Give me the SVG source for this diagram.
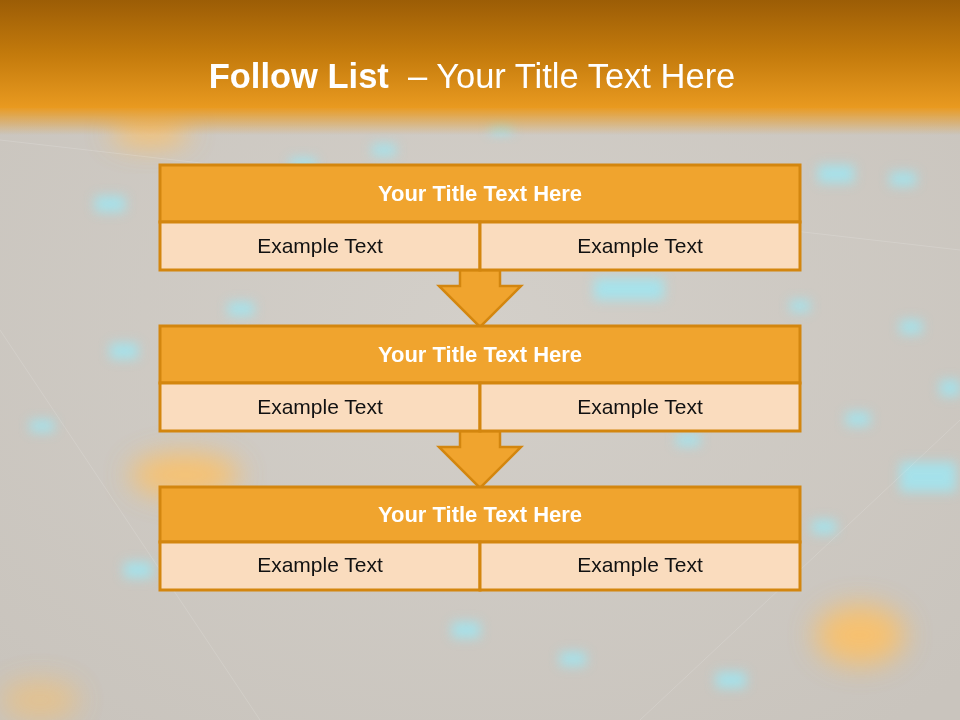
<svg xmlns="http://www.w3.org/2000/svg" width="960" height="720" viewBox="0 0 960 720">
<defs>
<linearGradient id="hdr" x1="0" y1="0" x2="0" y2="1">
<stop offset="0" stop-color="#9c5d06"/>
<stop offset="0.5" stop-color="#c37a0c"/>
<stop offset="1" stop-color="#e99a20"/>
</linearGradient>
<linearGradient id="fade" x1="0" y1="0" x2="0" y2="1">
<stop offset="0" stop-color="#e99a20" stop-opacity="1"/>
<stop offset="1" stop-color="#e99a20" stop-opacity="0"/>
</linearGradient>
<radialGradient id="bg" cx="0.5" cy="0.45" r="0.7">
<stop offset="0" stop-color="#d3cfc9"/>
<stop offset="1" stop-color="#c9c4bd"/>
</radialGradient>
<filter id="blur" x="-100%" y="-100%" width="300%" height="300%"><feGaussianBlur stdDeviation="6"/></filter>
<filter id="blur2" x="-100%" y="-100%" width="300%" height="300%"><feGaussianBlur stdDeviation="14"/></filter>
<style>
.tt{fill:#f0a42e;stroke:#d3860f;stroke-width:3}
.bd{fill:#fadcbe;stroke:#d3860f;stroke-width:3}
.ar{fill:#f0a42e;stroke:#d3860f;stroke-width:2.5;stroke-linejoin:miter}
.ht{font-family:"Liberation Sans",Arial,sans-serif;font-weight:bold;font-size:22px;fill:#ffffff;text-anchor:middle}
.et{font-family:"Liberation Sans",Arial,sans-serif;font-size:21px;fill:#111111;text-anchor:middle}
.cy{fill:#9fe6f2;filter:url(#blur)}
.og{fill:#ffc060;filter:url(#blur2)}
</style>
</defs>
<rect x="0" y="0" width="960" height="720" fill="url(#bg)"/>
<g opacity="0.85">
<ellipse class="og" cx="150" cy="132" rx="40" ry="14"/>
<ellipse class="og" cx="185" cy="475" rx="55" ry="22"/>
<ellipse class="og" cx="860" cy="635" rx="45" ry="30"/>
<ellipse class="og" cx="40" cy="700" rx="40" ry="20" opacity="0.6"/>
<rect class="cy" x="95" y="196" width="30" height="16"/>
<rect class="cy" x="110" y="343" width="28" height="16"/>
<rect class="cy" x="228" y="302" width="26" height="14"/>
<rect class="cy" x="290" y="158" width="26" height="12"/>
<rect class="cy" x="372" y="144" width="24" height="12"/>
<rect class="cy" x="490" y="124" width="22" height="10"/>
<rect class="cy" x="594" y="278" width="70" height="22"/>
<rect class="cy" x="818" y="165" width="36" height="18"/>
<rect class="cy" x="890" y="172" width="26" height="14"/>
<rect class="cy" x="900" y="462" width="56" height="30"/>
<rect class="cy" x="846" y="412" width="24" height="14"/>
<rect class="cy" x="452" y="622" width="28" height="16"/>
<rect class="cy" x="716" y="672" width="30" height="16"/>
<rect class="cy" x="124" y="562" width="28" height="16"/>
<rect class="cy" x="560" y="652" width="26" height="14"/>
<rect class="cy" x="676" y="434" width="24" height="12"/>
<rect class="cy" x="812" y="520" width="24" height="14"/>
<rect class="cy" x="900" y="320" width="22" height="14"/>
<rect class="cy" x="940" y="380" width="20" height="16"/>
<rect class="cy" x="790" y="300" width="20" height="12"/>
<rect class="cy" x="30" y="420" width="24" height="12"/>
</g>
<g stroke="#ffffff" stroke-opacity="0.15" stroke-width="1" fill="none">
<line x1="0" y1="330" x2="260" y2="720"/>
<line x1="640" y1="720" x2="960" y2="420"/>
<line x1="0" y1="140" x2="960" y2="250"/>
</g>
<rect x="0" y="0" width="960" height="108" fill="url(#hdr)"/>
<rect x="0" y="107" width="960" height="28" fill="url(#fade)"/>
<text x="472" y="88" xml:space="preserve" font-family="&quot;Liberation Sans&quot;,Arial,sans-serif" font-size="34.5" fill="#ffffff" text-anchor="middle"><tspan font-weight="bold">Follow List</tspan>  – Your Title Text Here</text>
<g id="connectors">
<polygon class="ar" points="460,270 500,270 500,286 521,286 480,327 439,286 460,286"/>
<polygon class="ar" points="460,431 500,431 500,447 521,447 480,488 439,447 460,447"/>
</g>
<g id="node1">
<rect class="tt" x="160" y="165" width="640" height="57"/>
<rect class="bd" x="160" y="222" width="320" height="48"/>
<rect class="bd" x="480" y="222" width="320" height="48"/>
<text class="ht" x="480" y="201">Your Title Text Here</text>
<text class="et" x="320" y="253">Example Text</text>
<text class="et" x="640" y="253">Example Text</text>
</g>
<g id="node2">
<rect class="tt" x="160" y="326" width="640" height="57"/>
<rect class="bd" x="160" y="383" width="320" height="48"/>
<rect class="bd" x="480" y="383" width="320" height="48"/>
<text class="ht" x="480" y="362">Your Title Text Here</text>
<text class="et" x="320" y="414">Example Text</text>
<text class="et" x="640" y="414">Example Text</text>
</g>
<g id="node3">
<rect class="tt" x="160" y="487" width="640" height="55"/>
<rect class="bd" x="160" y="542" width="320" height="48"/>
<rect class="bd" x="480" y="542" width="320" height="48"/>
<text class="ht" x="480" y="522">Your Title Text Here</text>
<text class="et" x="320" y="572">Example Text</text>
<text class="et" x="640" y="572">Example Text</text>
</g>
</svg>
